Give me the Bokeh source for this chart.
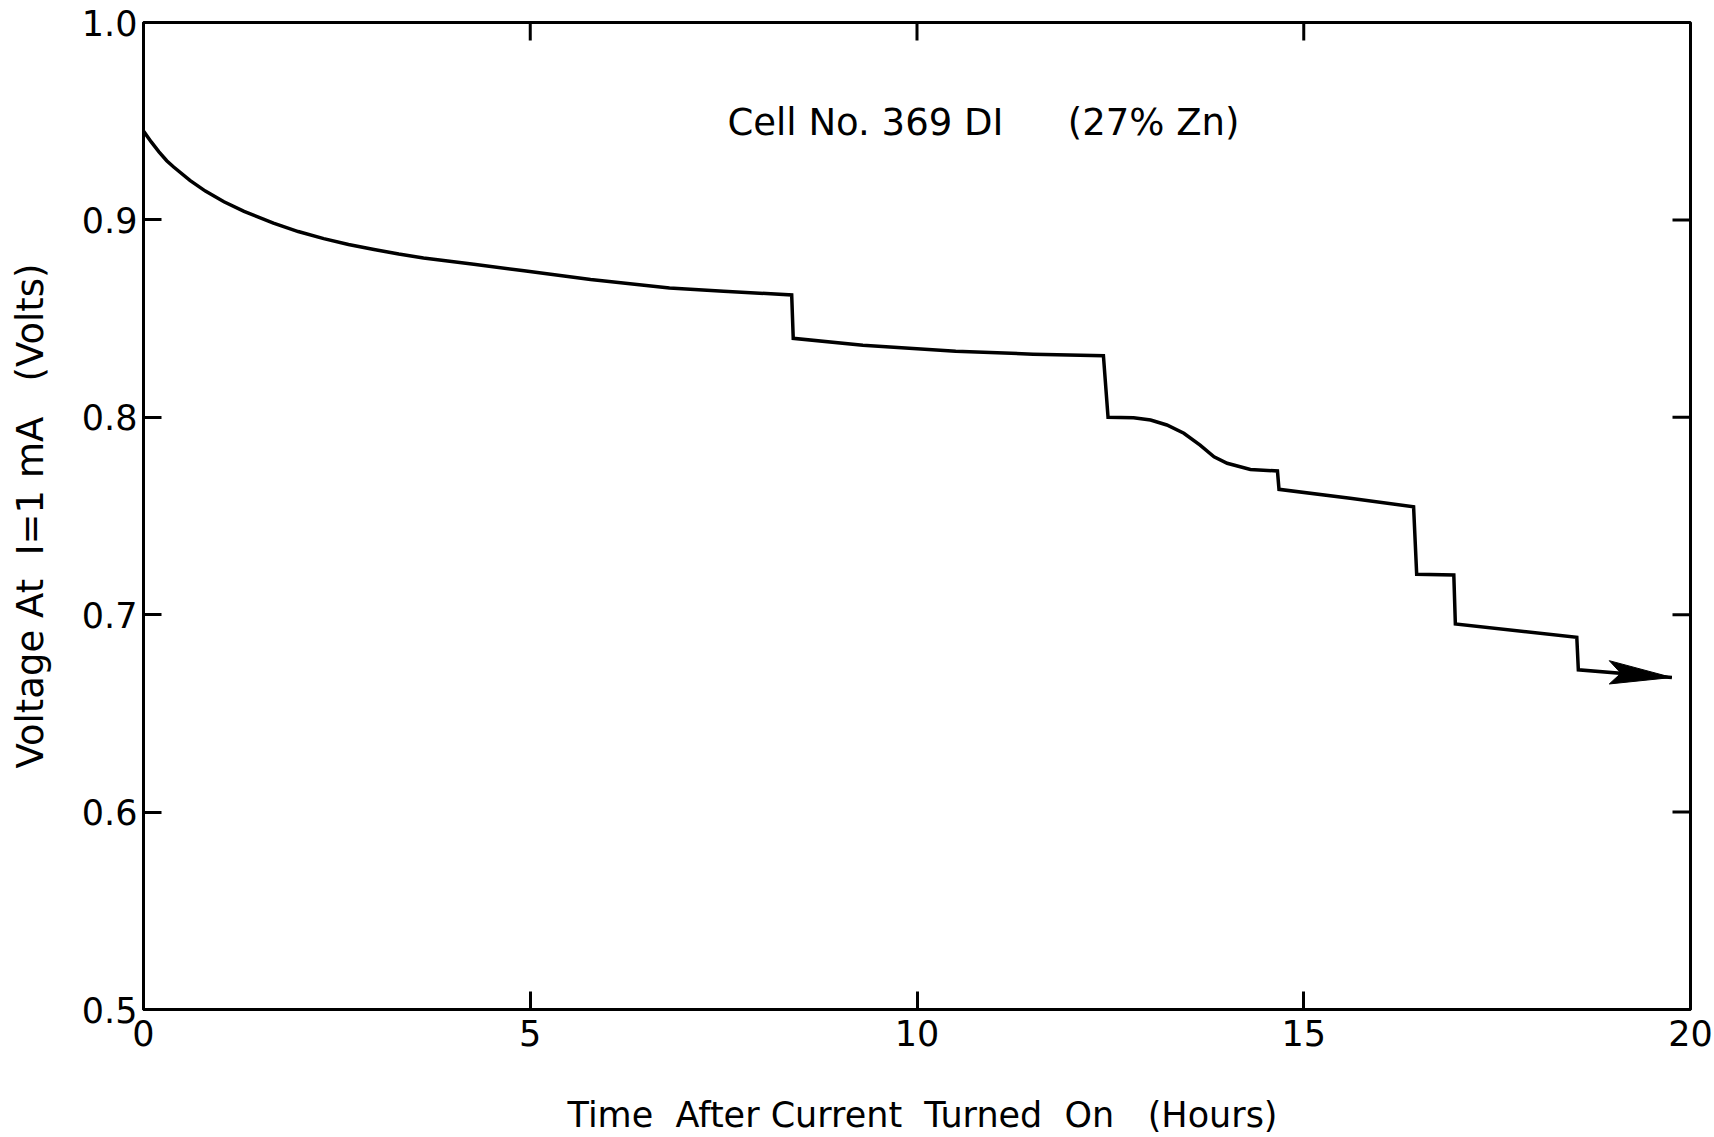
import math
from bokeh.plotting import figure
from bokeh.models import Range1d, LinearAxis, FixedTicker, Label, ColumnDataSource
from bokeh.embed import file_html
from bokeh.resources import INLINE

# ---- data ----
hours = [0.0, 0.1, 0.2, 0.3, 0.39, 0.6, 0.8, 1.04, 1.3, 1.68, 2.0, 2.33, 2.65, 2.98, 3.3, 3.62, 4.27,
         4.92, 5.78, 6.8, 7.5, 8.38,
         8.40, 9.3, 10.5, 11.5, 12.41,
         12.47, 12.8, 13.02, 13.23, 13.45, 13.66, 13.84, 14.01, 14.31, 14.66,
         14.68, 15.6, 16.42,
         16.46, 16.94,
         16.96, 18.53,
         18.55, 19.76]
volts = [0.945, 0.9395, 0.9345, 0.930, 0.9268, 0.9200, 0.9146, 0.9092, 0.9043, 0.8984, 0.8941, 0.8905,
         0.8875, 0.885, 0.8827, 0.8807, 0.8775,
         0.8742, 0.8698, 0.8655, 0.8638, 0.862,
         0.840, 0.8365, 0.8335, 0.832, 0.8312,
         0.800, 0.7998, 0.7986, 0.7961, 0.7919, 0.7859, 0.7800, 0.7767, 0.7736, 0.7728,
         0.7635, 0.7590, 0.7547,
         0.7205, 0.7201,
         0.6953, 0.6886,
         0.6721, 0.6682]

x_ticks = [0, 5, 10, 15, 20]
x_tick_labels = ["0", "5", "10", "15", "20"]
y_ticks = [0.5, 0.6, 0.7, 0.8, 0.9, 1.0]
y_tick_labels = ["0.5", "0.6", "0.7", "0.8", "0.9", "1.0"]
top_ticks = [5, 10, 15]
right_ticks = [0.6, 0.7, 0.8, 0.9]

title_left = "Cell No. 369 DI"
title_right = "(27% Zn)"
x_label = "\u00a0Time\u00a0 After Current\u00a0 Turned\u00a0 On\u00a0\u00a0 (Hours)"
y_label = "Voltage At\u00a0 I=1 mA\u00a0\u00a0 (Volts)"

FONT = "DejaVu Sans"
TICK_LEN = 18

p = figure(width=1714, height=1137,
           x_range=Range1d(0, 20), y_range=Range1d(0.5, 1.0),
           x_axis_type=None, y_axis_type=None,
           output_backend="svg", toolbar_location=None,
           min_border_left=143, min_border_right=24,
           min_border_top=22, min_border_bottom=127)
p.outline_line_color = "black"
p.outline_line_width = 3
p.background_fill_color = "white"
p.border_fill_color = "white"


def style_axis(ax, label_size):
    ax.axis_line_width = 3
    ax.axis_line_color = "black"
    ax.major_tick_in = TICK_LEN
    ax.major_tick_out = 0
    ax.major_tick_line_width = 3
    ax.major_tick_line_color = "black"
    ax.minor_tick_line_color = None
    ax.major_label_text_font = FONT
    ax.major_label_text_color = "black"
    ax.major_label_text_font_size = "35px"
    ax.axis_label_text_font = FONT
    ax.axis_label_text_color = "black"
    ax.axis_label_text_font_size = label_size
    ax.axis_label_text_font_style = "normal"


bottom = LinearAxis(ticker=FixedTicker(ticks=x_ticks),
                    major_label_overrides={t: l for t, l in zip(x_ticks, x_tick_labels)})
style_axis(bottom, "35px")
bottom.major_label_standoff = 10
bottom.axis_label = x_label
bottom.axis_label_standoff = 46
p.add_layout(bottom, "below")

left = LinearAxis(ticker=FixedTicker(ticks=y_ticks),
                  major_label_overrides={t: l for t, l in zip(y_ticks, y_tick_labels)})
style_axis(left, "37px")
left.major_label_standoff = 6
left.axis_label = y_label
left.axis_label_standoff = 27
p.add_layout(left, "left")

# inward ticks on the top and right edges of the frame
p.ray(x=top_ticks, y=[1.0] * len(top_ticks), length=TICK_LEN, length_units="screen",
      angle=-math.pi / 2, line_color="black", line_width=3)
p.ray(x=[20] * len(right_ticks), y=right_ticks, length=TICK_LEN, length_units="screen",
      angle=math.pi, line_color="black", line_width=3)

src = ColumnDataSource(data=dict(x=hours, y=volts))
p.line("x", "y", source=src, line_width=3.5, line_color="black", line_join="miter")

# arrow head at the end of the curve
ARROW_LEN = 0.81      # hours
ARROW_HALF = 0.0059   # volts
ARROW_NOTCH = 0.15    # hours
tx, ty = hours[-1], volts[-1]
slope = (volts[-1] - volts[-2]) / (hours[-1] - hours[-2])
bx = tx - ARROW_LEN
by = ty - slope * ARROW_LEN
nx = bx + ARROW_NOTCH
ny = ty - slope * (ARROW_LEN - ARROW_NOTCH)
p.patch([tx, bx, nx, bx], [ty, by + ARROW_HALF, ny, by - ARROW_HALF],
        fill_color="black", line_color="black", line_width=1)

p.add_layout(Label(x=7.55, y=0.9493, text=title_left, text_font=FONT,
                   text_font_size="37px", text_color="black", text_baseline="alphabetic"))
p.add_layout(Label(x=11.95, y=0.9493, text=title_right, text_font=FONT,
                   text_font_size="37px", text_color="black", text_baseline="alphabetic"))

open("out.html", "w").write(file_html(p, INLINE))
